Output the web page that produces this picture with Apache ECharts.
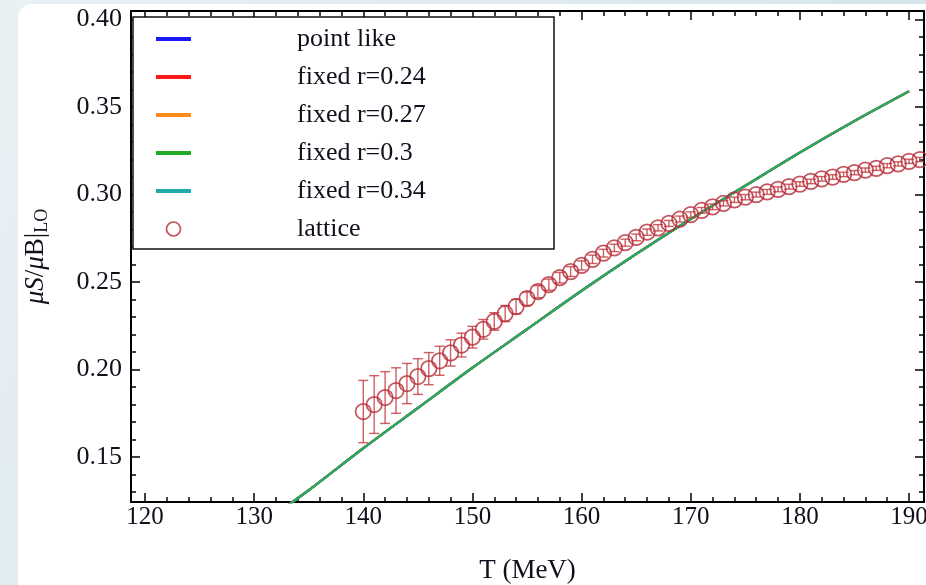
<!DOCTYPE html>
<html><head><meta charset="utf-8">
<script src="https://cdn.jsdelivr.net/npm/echarts@6/dist/echarts.min.js"></script>
<style>html,body{margin:0;padding:0;background:#fff}#c{width:926px;height:585px}</style>
</head><body><div id="c"></div>
<script>
// ---- data ----
const xMajorTicks = [120, 130, 140, 150, 160, 170, 180, 190];
const xMinorTicks = [120,122,124,126,128,130,132,134,136,138,140,142,144,146,148,150,152,154,156,158,160,162,164,166,168,170,172,174,176,178,180,182,184,186,188,190];
const yMajorTicks = [0.15, 0.20, 0.25, 0.30, 0.35, 0.40];
const yMinorTicks = [0.13,0.14,0.15,0.16,0.17,0.18,0.19,0.20,0.21,0.22,0.23,0.24,0.25,0.26,0.27,0.28,0.29,0.30,0.31,0.32,0.33,0.34,0.35,0.36,0.37,0.38,0.39,0.40];

const theoryT = [133, 135, 140, 145, 150, 155, 160, 165, 170, 175, 180, 185, 190];
const pointLike = [0.122, 0.131, 0.155, 0.178, 0.201, 0.223, 0.245, 0.266, 0.286, 0.305, 0.324, 0.342, 0.359];
const fixedR024 = [0.122, 0.131, 0.155, 0.178, 0.201, 0.223, 0.245, 0.266, 0.286, 0.305, 0.324, 0.342, 0.359];
const fixedR027 = [0.122, 0.131, 0.155, 0.178, 0.201, 0.223, 0.245, 0.266, 0.286, 0.305, 0.324, 0.342, 0.359];
const fixedR030 = [0.122, 0.131, 0.155, 0.178, 0.201, 0.223, 0.245, 0.266, 0.286, 0.305, 0.324, 0.342, 0.359];
const fixedR034 = [0.122, 0.131, 0.155, 0.178, 0.201, 0.223, 0.245, 0.266, 0.286, 0.305, 0.324, 0.342, 0.359];

const latticeT = [140,141,142,143,144,145,146,147,148,149,150,151,152,153,154,155,156,157,158,159,160,161,162,163,164,165,166,167,168,169,170,171,172,173,174,175,176,177,178,179,180,181,182,183,184,185,186,187,188,189,190,191];
const latticeVal = [0.176,0.180,0.184,0.188,0.192,0.196,0.2005,0.205,0.2095,0.214,0.2185,0.223,0.2275,0.232,0.236,0.2405,0.2445,0.2485,0.2525,0.256,0.2595,0.263,0.2665,0.2695,0.2725,0.2755,0.2785,0.281,0.2835,0.286,0.2885,0.291,0.293,0.295,0.297,0.2985,0.300,0.3015,0.303,0.3045,0.306,0.3075,0.309,0.310,0.3115,0.3125,0.314,0.315,0.3165,0.3175,0.319,0.320];
const latticeErr = [0.0178,0.0165,0.0148,0.0130,0.0115,0.0102,0.0092,0.0083,0.0075,0.0068,0.0062,0.0056,0.0050,0.0046,0.0042,0.0038,0.0035,0.0032,0.0030,0.0028,0.0026,0.0024,0.0022,0.0021,0.0020,0.0019,0.0018,0.0018,0.0017,0.0017,0.0016,0.0016,0.0016,0.0015,0.0015,0.0015,0.0014,0.0014,0.0014,0.0014,0.0013,0.0013,0.0013,0.0013,0.0013,0.0012,0.0012,0.0012,0.0012,0.0012,0.0012,0.0012];

const seriesNames = ['point like', 'fixed r=0.24', 'fixed r=0.27', 'fixed r=0.3', 'fixed r=0.34', 'lattice'];
const lineColors = ['#1a1aff', '#ff1a1a', '#ff8c1a', '#22aa22', '#22aaaa'];

// ---- build ----
const X_MIN = 118.72, X_MAX = 191.37, Y_MIN = 0.1243, Y_MAX = 0.4049;
const FONT = '"Liberation Serif", "Times New Roman", serif';
const TXT = '#10101c';
const pair = (xs, ys) => xs.map((x, i) => [x, ys[i]]);
const theorySets = [pointLike, fixedR024, fixedR027, fixedR030, fixedR034];

function xAx(pos, major, labels, name) {
  return {
    type: 'value', position: pos, min: X_MIN, max: X_MAX,
    axisLine: { show: major, onZero: false, lineStyle: { color: '#000', width: 2 } },
    axisTick: { show: true, inside: true, length: major ? 9 : 5, customValues: major ? xMajorTicks : xMinorTicks, lineStyle: { color: '#000', width: 1.5 } },
    axisLabel: labels ? { show: true, customValues: xMajorTicks, fontFamily: FONT, fontSize: 25, color: TXT, margin: 3 } : { show: false },
    splitLine: { show: false },
    name: name || '', nameLocation: 'middle', nameGap: 55,
    nameTextStyle: { fontFamily: FONT, fontSize: 27, color: TXT }
  };
}
function yAx(pos, major, labels, name) {
  return {
    type: 'value', position: pos, min: Y_MIN, max: Y_MAX,
    axisLine: { show: major, onZero: false, lineStyle: { color: '#000', width: 2 } },
    axisTick: { show: true, inside: true, length: major ? 9 : 5, customValues: major ? yMajorTicks : yMinorTicks, lineStyle: { color: '#000', width: 1.5 } },
    axisLabel: labels ? { show: true, customValues: yMajorTicks, fontFamily: FONT, fontSize: 26, color: TXT, margin: 9, formatter: v => v.toFixed(2) } : { show: false },
    splitLine: { show: false },
    name: name ? '{i|μS}/{i|μ}B|{s|LO}' : '', nameLocation: 'middle', nameGap: 80, nameRotate: 90,
    nameTextStyle: { fontFamily: FONT, fontSize: 27, color: TXT,
      rich: { i: { fontFamily: FONT, fontSize: 27, fontStyle: 'italic', color: TXT }, s: { fontFamily: FONT, fontSize: 18, color: TXT, padding: [12, 0, 0, 0] } } }
  };
}

const series = [];
theorySets.forEach((vals, k) => {
  series.push({
    name: seriesNames[k], type: 'line', xAxisIndex: 0, yAxisIndex: 0,
    data: pair(theoryT, vals), showSymbol: false, smooth: 0.3, clip: true,
    lineStyle: { color: lineColors[k], width: 2.3, opacity: k === 4 ? 0.5 : 1 },
    itemStyle: { color: lineColors[k] }, z: 2 + k * 0.1
  });
});
series.push({
  name: 'lattice-err', type: 'custom', xAxisIndex: 0, yAxisIndex: 0, clip: true,
  data: latticeT.map((t, i) => [t, latticeVal[i] - latticeErr[i], latticeVal[i] + latticeErr[i]]),
  renderItem: function (params, api) {
    const lo = api.coord([api.value(0), api.value(1)]);
    const hi = api.coord([api.value(0), api.value(2)]);
    const w = 5;
    const st = { stroke: 'rgba(195,55,60,0.8)', lineWidth: 1.4 };
    return { type: 'group', children: [
      { type: 'line', shape: { x1: lo[0], y1: lo[1], x2: hi[0], y2: hi[1] }, style: st },
      { type: 'line', shape: { x1: lo[0] - w, y1: lo[1], x2: lo[0] + w, y2: lo[1] }, style: st },
      { type: 'line', shape: { x1: hi[0] - w, y1: hi[1], x2: hi[0] + w, y2: hi[1] }, style: st }
    ]};
  }, z: 3
});
series.push({
  name: 'lattice', type: 'scatter', xAxisIndex: 0, yAxisIndex: 0,
  data: pair(latticeT, latticeVal), symbol: 'circle', symbolSize: 15.5, clip: false,
  itemStyle: { color: 'rgba(255,255,255,0)', borderColor: '#b52a36', borderWidth: 1.7 }, z: 4
});

const linePath = 'path://M0,0 H35 V4 H0 Z';
const option = {
  backgroundColor: '#ffffff',
  animation: false,
  grid: { left: 131, right: 2, top: 11, bottom: 83, containLabel: false, outerBoundsMode: 'none' },
  xAxis: [xAx('bottom', true, true, 'T (MeV)'), xAx('bottom', false, false), xAx('top', true, false), xAx('top', false, false)],
  yAxis: [yAx('left', true, true, true), yAx('left', false, false), yAx('right', true, false), yAx('right', false, false)],
  graphic: [
    { type: 'rect', z: -2, shape: { x: 0, y: 0, width: 926, height: 585 },
      style: { fill: new echarts.graphic.LinearGradient(0, 0, 1, 1, [{ offset: 0, color: '#e9f1f4' }, { offset: 1, color: '#cfe1e9' }]) } },
    { type: 'rect', z: -1, shape: { x: 18, y: 4, width: 940, height: 620, r: [14, 0, 0, 0] }, style: { fill: '#ffffff' } },
    { type: 'rect', z: 5, shape: { x: 133, y: 17, width: 421, height: 232 }, style: { fill: '#ffffff', stroke: '#111', lineWidth: 1.5 } }
  ],
  legend: {
    z: 10, orient: 'vertical', left: 156, top: 26, padding: 0, itemGap: 12,
    itemWidth: 35, itemHeight: 14, selectedMode: false,
    textStyle: { fontFamily: FONT, fontSize: 26, color: TXT, padding: [0, 0, 0, 101] },
    data: seriesNames.map((n, k) => k < 5
      ? { name: n, icon: linePath, itemStyle: { color: lineColors[k], borderWidth: 0 } }
      : { name: n, icon: 'circle', itemStyle: { color: 'rgba(255,255,255,0)', borderColor: '#b52a36', borderWidth: 1.7 } })
  },
  series: series
};
const chart = echarts.init(document.getElementById('c'), null, { renderer: 'canvas' });
chart.setOption(option);
</script></body></html>
